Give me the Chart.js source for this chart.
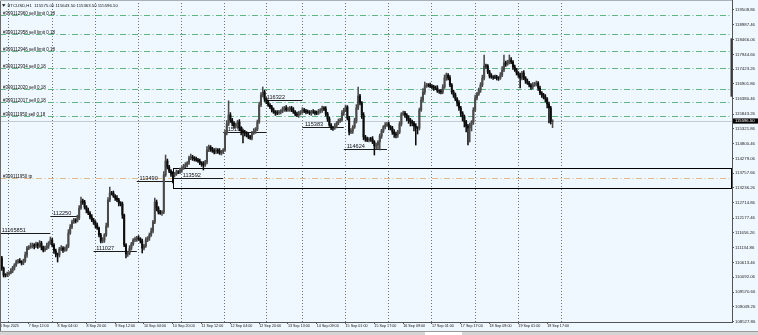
<!DOCTYPE html>
<html>
<head>
<meta charset="utf-8">
<script src="https://cdn.jsdelivr.net/npm/chart.js@4.4.1/dist/chart.umd.min.js"></script>
<style>
  html, body { margin: 0; padding: 0; background: #f0f8ff; }
  #wrap { position: relative; width: 758px; height: 335px; }
</style>
</head>
<body>
<div id="wrap"><canvas id="chart"></canvas></div>
<script>
/* BTCUSD H1 — candles, one per hour */

const symbol = 'BTCUSD,H1';

// time axis labels, one every 16 bars
const timeLabels = ['6 Sep 2025', '7 Sep 12:00', '8 Sep 04:00', '8 Sep 20:00', '9 Sep 12:00',
  '10 Sep 04:00', '10 Sep 20:00', '11 Sep 12:00', '12 Sep 04:00', '12 Sep 20:00',
  '13 Sep 13:00', '14 Sep 09:00', '15 Sep 01:00', '15 Sep 17:00', '16 Sep 09:00',
  '17 Sep 01:00', '17 Sep 17:00', '18 Sep 09:00', '19 Sep 01:00', '19 Sep 17:00'];
const labelEvery = 16;

// price axis labels
const priceTicks = [119508.86, 118987.46, 118466.06, 117944.66, 117423.26, 116901.86, 116380.46,
  115843.26, 115321.86, 114800.46, 114279.06, 113757.66, 113236.26, 112714.86, 112177.46,
  111656.26, 111134.86, 110613.46, 110092.06, 109570.66, 109049.26, 108527.86];

// first bar of every day (period separators)
const dayStarts = [4, 28, 52, 76, 100, 124, 147, 167, 191, 215, 239, 263, 287, 311];

const opens = [
  110486, 110768, 110416, 110169, 110169, 110204, 110239, 110310, 110416, 110521,
  110627, 110662, 110627, 110592, 110662, 110874, 111121, 111156, 111191, 111226,
  111191, 111262, 111191, 111297, 111156, 111050, 111121, 111191, 111297, 111403,
  111226, 111015, 110909, 110874, 111085, 111121, 111050, 111085, 111191, 111649,
  111861, 112037, 112108, 112072, 112178, 112531, 112777, 112742, 112566, 112460,
  112354, 112213, 112108, 112037, 111931, 111826, 111579, 111367, 111403, 111579,
  111896, 112813, 113059, 113059, 112954, 112883, 112813, 112707, 112672, 112284,
  111226, 110909, 110944, 111121, 111262, 111403, 111438, 111473, 111438, 111367,
  111121, 111191, 111403, 111473, 111579, 111720, 112037, 112742, 112531, 112390,
  112354, 112390, 113694, 114187, 113976, 113835, 113729, 113694, 113729, 113800,
  113800, 113870, 113941, 114011, 114046, 114117, 114293, 114328, 114293, 114258,
  114223, 114187, 114117, 114082, 114046, 114152, 114575, 114681, 114610, 114540,
  114505, 114575, 114540, 114469, 114505, 114575, 115174, 115491, 115808, 115632,
  115526, 115421, 115456, 115562, 115350, 115245, 115209, 115174, 115104, 115033,
  114998, 115174, 115245, 115315, 115562, 116161, 116513, 116619, 116372, 116267,
  116161, 116090, 115985, 115914, 115879, 115879, 115914, 115949, 116020, 116055,
  115985, 116020, 116055, 115985, 115914, 115844, 115808, 115879, 115914, 115985,
  115949, 115914, 115914, 115879, 115914, 115914, 115879, 115879, 115949, 115985,
  116055, 116020, 115844, 115667, 115456, 115350, 115350, 115421, 115526, 115597,
  115632, 115879, 115985, 116090, 115703, 115209, 115245, 115386, 115597, 116055,
  116478, 116231, 115808, 115033, 114963, 114927, 114963, 114963, 114857, 114716,
  114751, 114857, 115068, 115245, 115386, 115456, 115491, 115386, 115350, 115209,
  115139, 115104, 115209, 115491, 115844, 115879, 115808, 115703, 115632, 115562,
  115526, 115421, 115350, 115350, 115985, 116337, 116619, 116830, 116866, 116866,
  116830, 116795, 116760, 116760, 116654, 116654, 116619, 116795, 117112, 117218,
  117112, 116866, 116619, 116513, 116372, 116231, 116055, 115879, 115738, 115562,
  115421, 115350, 115456, 115562, 115985, 116407, 116548, 116689, 116866, 117112,
  117535, 117535, 117324, 117183, 117148, 117148, 117148, 117112, 117112, 117218,
  117394, 117641, 117606, 117676, 117747, 117676, 117500, 117394, 117288, 117218,
  117112, 117288, 117112, 117007, 116936, 116866, 116795, 116866, 116901, 116936,
  116760, 116584, 116513, 116443, 116372, 116196, 116055, 115575
];

const closes = [
  110768, 110416, 110169, 110169, 110204, 110239, 110310, 110416, 110521, 110627,
  110662, 110627, 110592, 110662, 110874, 111121, 111156, 111191, 111226, 111191,
  111262, 111191, 111297, 111156, 111050, 111121, 111191, 111297, 111403, 111226,
  111015, 110909, 110874, 111085, 111121, 111050, 111085, 111191, 111649, 111861,
  112037, 112108, 112072, 112178, 112531, 112777, 112742, 112566, 112460, 112354,
  112213, 112108, 112037, 111931, 111826, 111579, 111367, 111403, 111579, 111896,
  112813, 113059, 113059, 112954, 112883, 112813, 112707, 112672, 112284, 111226,
  110909, 110944, 111121, 111262, 111403, 111438, 111473, 111438, 111367, 111121,
  111191, 111403, 111473, 111579, 111720, 112037, 112742, 112531, 112390, 112354,
  112390, 113694, 114187, 113976, 113835, 113729, 113694, 113729, 113800, 113800,
  113870, 113941, 114011, 114046, 114117, 114293, 114328, 114293, 114258, 114223,
  114187, 114117, 114082, 114046, 114152, 114575, 114681, 114610, 114540, 114505,
  114575, 114540, 114469, 114505, 114575, 115174, 115491, 115808, 115632, 115526,
  115421, 115456, 115562, 115350, 115245, 115209, 115174, 115104, 115033, 114998,
  115174, 115245, 115315, 115562, 116161, 116513, 116619, 116372, 116267, 116161,
  116090, 115985, 115914, 115879, 115879, 115914, 115949, 116020, 116055, 115985,
  116020, 116055, 115985, 115914, 115844, 115808, 115879, 115914, 115985, 115949,
  115914, 115914, 115879, 115914, 115914, 115879, 115879, 115949, 115985, 116055,
  116020, 115844, 115667, 115456, 115350, 115350, 115421, 115526, 115597, 115632,
  115879, 115985, 116090, 115703, 115209, 115245, 115386, 115597, 116055, 116478,
  116231, 115808, 115033, 114963, 114927, 114963, 114963, 114857, 114716, 114751,
  114857, 115068, 115245, 115386, 115456, 115491, 115386, 115350, 115209, 115139,
  115104, 115209, 115491, 115844, 115879, 115808, 115703, 115632, 115562, 115526,
  115421, 115350, 115350, 115985, 116337, 116619, 116830, 116866, 116866, 116830,
  116795, 116760, 116760, 116654, 116654, 116619, 116795, 117112, 117218, 117112,
  116866, 116619, 116513, 116372, 116231, 116055, 115879, 115738, 115562, 115421,
  115350, 115456, 115562, 115985, 116407, 116548, 116689, 116866, 117112, 117535,
  117535, 117324, 117183, 117148, 117148, 117148, 117112, 117112, 117218, 117394,
  117641, 117606, 117676, 117747, 117676, 117500, 117394, 117288, 117218, 117112,
  117288, 117112, 117007, 116936, 116866, 116795, 116866, 116901, 116936, 116760,
  116584, 116513, 116443, 116372, 116196, 116055, 115575, 115596.5
];

// wick length above the body / below the body
const wickUp = [
  176, 60, 35, 50, 70, 50, 85, 60, 50, 70,
  60, 85, 50, 70, 100, 60, 50, 106, 70, 50,
  70, 50, 85, 60, 35, 70, 100, 50, 106, 60,
  50, 70, 35, 60, 85, 50, 70, 50, 120, 85,
  70, 60, 50, 100, 85, 141, 70, 60, 50, 70,
  50, 85, 60, 50, 70, 35, 60, 85, 50, 100,
  85, 211, 60, 70, 50, 85, 60, 50, 70, 35,
  50, 70, 85, 60, 50, 70, 60, 85, 50, 70,
  60, 85, 50, 70, 100, 60, 141, 70, 50, 60,
  50, 120, 211, 70, 60, 50, 85, 60, 70, 50,
  70, 50, 60, 85, 50, 70, 100, 60, 50, 70,
  60, 70, 50, 85, 60, 120, 70, 50, 60, 85,
  70, 50, 85, 60, 50, 100, 120, 500, 85, 60,
  50, 70, 60, 85, 50, 70, 60, 50, 85, 60,
  60, 85, 50, 70, 100, 85, 176, 60, 50, 70,
  50, 60, 70, 50, 85, 60, 50, 70, 60, 85,
  70, 50, 60, 85, 50, 70, 60, 50, 85, 60,
  60, 70, 50, 60, 85, 50, 70, 60, 50, 70,
  50, 85, 60, 70, 50, 60, 85, 50, 70, 60,
  85, 60, 70, 50, 60, 85, 50, 100, 120, 317,
  60, 50, 85, 60, 70, 50, 60, 85, 50, 70,
  50, 70, 60, 50, 85, 60, 70, 50, 60, 85,
  70, 60, 85, 50, 70, 60, 50, 85, 60, 70,
  60, 85, 50, 70, 100, 120, 141, 60, 50, 70,
  50, 60, 70, 85, 50, 60, 85, 106, 70, 50,
  85, 50, 60, 70, 50, 85, 60, 50, 70, 60,
  60, 70, 50, 85, 100, 60, 70, 85, 100, 388,
  70, 50, 60, 85, 50, 70, 60, 50, 85, 120,
  282, 70, 60, 176, 85, 50, 70, 60, 50, 70,
  60, 85, 50, 70, 60, 50, 85, 60, 70, 50,
  70, 50, 60, 85, 50, 70, 60, 47
];
const wickDn = [
  70, 85, 70, 70, 60, 50, 35, 60, 70, 50,
  50, 35, 70, 60, 50, 85, 60, 50, 70, 100,
  60, 85, 50, 100, 70, 50, 60, 85, 50, 70,
  85, 100, 247, 70, 60, 85, 50, 70, 60, 50,
  60, 50, 70, 35, 60, 50, 85, 70, 100, 60,
  70, 60, 85, 100, 50, 70, 70, 60, 85, 50,
  50, 60, 70, 50, 85, 60, 100, 70, 120, 60,
  141, 85, 60, 70, 50, 60, 85, 50, 70, 176,
  70, 50, 60, 85, 50, 70, 60, 100, 70, 50,
  85, 60, 50, 70, 60, 85, 282, 70, 50, 60,
  60, 85, 50, 60, 70, 50, 60, 85, 70, 50,
  50, 60, 85, 176, 50, 70, 60, 85, 50, 70,
  60, 85, 50, 70, 60, 50, 70, 60, 85, 100,
  85, 60, 120, 100, 141, 388, 106, 70, 60, 50,
  70, 50, 85, 60, 50, 60, 70, 85, 60, 50,
  60, 70, 50, 85, 60, 50, 70, 60, 85, 50,
  50, 85, 60, 50, 70, 60, 85, 70, 50, 60,
  70, 50, 60, 85, 50, 70, 60, 50, 70, 85,
  60, 70, 85, 50, 60, 85, 50, 70, 60, 50,
  50, 85, 60, 70, 106, 60, 85, 50, 70, 60,
  70, 120, 100, 85, 60, 70, 85, 60, 317, 100,
  141, 282, 85, 60, 70, 50, 100, 70, 85, 120,
  106, 85, 60, 70, 50, 85, 100, 120, 141, 106,
  176, 600, 211, 70, 50, 60, 85, 50, 70, 60,
  70, 85, 60, 50, 85, 70, 60, 50, 85, 70,
  60, 70, 85, 60, 100, 85, 120, 141, 176, 211,
  600, 493, 211, 85, 60, 70, 50, 85, 60, 70,
  85, 60, 70, 50, 85, 60, 70, 85, 50, 60,
  60, 85, 50, 70, 60, 85, 50, 70, 85, 352,
  70, 60, 85, 50, 70, 85, 60, 50, 70, 85,
  60, 85, 70, 100, 141, 529, 85, 211.5
];

// pending / open orders
const orderPrices = [119343, 118652, 118074, 117482, 116725, 116284, 115773];
const orderLabels = ['#399112960 sell limit 0.18', '#399112958 sell limit 0.18',
  '#399112946 sell limit 0.18', '#399112934 sell 0.18', '#399112020 sell 0.18',
  '#399112017 sell 0.18', '#399111950 sell 0.18'];
const tpPrice = 113599;
const tpLabel = '#399111950 tp';

// daily level segments (bar from / to, label anchor bar)
const levelPrices = [111650, 112250, 111027, 113490, 113592, 115192, 116322, 115383, 114624];
const levelLabels = ['11165851', '112250', '111027', '113490', '113592', '115192', '116322', '115383', '114624'];
const levelFrom = [0, 28, 52, 76, 96, 124, 148, 168, 191];
const levelTo = [28, 44, 76, 96, 124, 148, 168, 191, 215];
const levelLabelAt = [1, 29.5, 53.5, 77.5, 101.5, 125, 148.2, 169.4, 192.6];

// zone rectangle
const zoneFrom = 96;
const zoneTop = 113951;
const zoneBottom = 113246;

// visible window
const priceTop = 119861;
const priceBottom = 108514;
const visibleBars = 406.7;
const rangeMarkTop = 118511;
const rangeMarkBottom = 116453;

const FONT = "'Liberation Sans', Arial, sans-serif";
const last = closes.length - 1;

/* ─── candle datasets ─────────────────────────────── */
// bull candles are hollow in MT4, at this zoom they come out dark grey
const BULL = '#4a4a4a';
const BEAR = '#0c0c0c';
const candleColor = closes.map((c, i) => (c > opens[i] ? BULL : BEAR));

const wickData = closes.map((c, i) => ({
  x: i,
  y: [Math.min(opens[i], c) - wickDn[i], Math.max(opens[i], c) + wickUp[i]]
}));
const bodyData = closes.map((c, i) => ({ x: i, y: [opens[i], c] }));

const snap = v => Math.round(v) + 0.5;
function hline(ctx, x0, x1, py) {
  ctx.beginPath(); ctx.moveTo(x0, py); ctx.lineTo(x1, py); ctx.stroke();
}

/* ─── objects drawn behind the candles ───────────── */
const behind = {
  id: 'behind',
  beforeDatasetsDraw(chart) {
    const { ctx, chartArea: a, scales: { x, y } } = chart;
    ctx.save();
    ctx.beginPath();
    ctx.rect(a.left, a.top, a.right - a.left, a.bottom - a.top);
    ctx.clip();
    ctx.lineWidth = 1;

    // period separators
    ctx.strokeStyle = '#737373';
    ctx.setLineDash([1, 2]);
    dayStarts.forEach(b => {
      const px = snap(x.getPixelForValue(b + 0.7));
      ctx.beginPath(); ctx.moveTo(px, a.top); ctx.lineTo(px, a.bottom); ctx.stroke();
    });

    // bid line
    ctx.setLineDash([]);
    ctx.strokeStyle = '#c4cbd3';
    hline(ctx, a.left, a.right, snap(y.getPixelForValue(closes[last])));

    // order lines
    ctx.font = `4.5px ${FONT}`;
    ctx.textAlign = 'left';
    ctx.textBaseline = 'alphabetic';
    ctx.setLineDash([6, 2.5, 1, 2.5]);
    orderPrices.forEach((p, k) => {
      const py = snap(y.getPixelForValue(p));
      ctx.strokeStyle = '#62b483';
      hline(ctx, a.left, a.right, py);
      ctx.fillStyle = '#111';
      ctx.fillText(orderLabels[k], a.left + 3, py - 1);
    });

    // take profit
    const tpy = snap(y.getPixelForValue(tpPrice));
    ctx.strokeStyle = '#e2b98f';
    hline(ctx, a.left, a.right, tpy);
    ctx.fillStyle = '#111';
    ctx.fillText(tpLabel, a.left + 3, tpy - 1);

    // level segments
    ctx.setLineDash([]);
    ctx.strokeStyle = '#1c1c1c';
    ctx.fillStyle = '#111';
    ctx.font = `5.6px ${FONT}`;
    levelPrices.forEach((p, k) => {
      const py = snap(y.getPixelForValue(p));
      hline(ctx, x.getPixelForValue(levelFrom[k]), x.getPixelForValue(levelTo[k]), py);
      ctx.fillText(levelLabels[k], x.getPixelForValue(levelLabelAt[k]), py - 1.5);
    });

    // zone rectangle
    ctx.strokeStyle = '#000';
    const zx = snap(x.getPixelForValue(zoneFrom));
    const zt = snap(y.getPixelForValue(zoneTop));
    const zb = snap(y.getPixelForValue(zoneBottom));
    ctx.strokeRect(zx, zt, a.right - 0.5 - zx, zb - zt);
    ctx.restore();
  },

  afterDraw(chart) {
    const { ctx, chartArea: a, scales: { y }, width, height } = chart;
    ctx.save();

    // dark mark on the price scale
    ctx.fillStyle = '#3c3c3c';
    const mt = y.getPixelForValue(rangeMarkTop);
    const mb = y.getPixelForValue(rangeMarkBottom);
    ctx.fillRect(a.right - 1.5, mt, 2, mb - mt);

    // current price box
    const py = y.getPixelForValue(closes[last]);
    ctx.fillStyle = '#000';
    ctx.fillRect(a.right + 1, py - 2.6, width - a.right - 1, 5.2);
    ctx.fillStyle = '#fff';
    ctx.font = `4.2px ${FONT}`;
    ctx.textBaseline = 'middle';
    ctx.fillText(closes[last].toFixed(2), a.right + 3, py + 0.2);

    // header with the last bar's OHLC
    const hi = Math.max(opens[last], closes[last]) + wickUp[last];
    const lo = Math.min(opens[last], closes[last]) - wickDn[last];
    ctx.fillStyle = '#111';
    ctx.beginPath();
    ctx.moveTo(2, 4.2); ctx.lineTo(5.5, 4.2); ctx.lineTo(3.75, 6.8); ctx.closePath();
    ctx.fill();
    ctx.font = `4.3px ${FONT}`;
    ctx.textBaseline = 'middle';
    ctx.fillText(`${symbol}  ${opens[last].toFixed(2)} ${hi.toFixed(2)} ${lo.toFixed(2)} ${closes[last].toFixed(2)}`, 7.5, 5.8);

    // frame
    ctx.strokeStyle = '#6a6a6a';
    ctx.lineWidth = 1;
    ctx.beginPath(); ctx.moveTo(0.5, 0); ctx.lineTo(0.5, height - 4); ctx.stroke();
    ctx.strokeStyle = '#a9b0b8';
    hline(ctx, 0, a.right, 0.5);

    // tab strip at the bottom
    ctx.fillStyle = '#d5d5d5';
    ctx.fillRect(0, height - 4, width, 4);
    ctx.strokeStyle = '#9a9a9a';
    hline(ctx, 0, width, height - 3.5);
    ctx.fillStyle = '#ffffff';
    ctx.fillRect(425, height - 3, 37, 3);
    ctx.restore();
  }
};

/* ─── chart ──────────────────────────────────────── */
new Chart(document.getElementById('chart'), {
  type: 'bar',
  data: {
    datasets: [
      { data: bodyData, backgroundColor: candleColor, barThickness: 1.4, grouped: false, borderWidth: 0 },
      { data: wickData, backgroundColor: candleColor, barThickness: 0.9, grouped: false, borderWidth: 0 }
    ]
  },
  options: {
    responsive: true,
    maintainAspectRatio: false,
    animation: false,
    layout: { padding: 0 },
    plugins: { legend: { display: false }, tooltip: { enabled: false } },
    scales: {
      x: {
        type: 'linear',
        min: 0,
        max: visibleBars,
        offset: false,
        grid: { offset: false, drawOnChartArea: false, tickLength: 2, color: '#555' },
        border: { color: '#555' },
        ticks: {
          autoSkip: false, maxRotation: 0, minRotation: 0, align: 'start', padding: 0,
          color: '#111', font: { family: FONT, size: 3.7 },
          callback: (v, i) => timeLabels[i]
        },
        afterBuildTicks: s => { s.ticks = timeLabels.map((_, k) => ({ value: k * labelEvery })); },
        afterFit: s => { s.height = 13; s.paddingLeft = 0; s.paddingRight = 0; }
      },
      y: {
        position: 'right',
        min: priceBottom,
        max: priceTop,
        beginAtZero: false,
        grid: { drawOnChartArea: false, tickLength: 2, color: '#555' },
        border: { color: '#555' },
        ticks: {
          autoSkip: false, padding: 1,
          color: '#222', font: { family: FONT, size: 4.3 },
          callback: v => v.toFixed(2)
        },
        afterBuildTicks: s => { s.ticks = priceTicks.map(v => ({ value: v })); },
        afterFit: s => { s.width = 26; s.paddingTop = 0; s.paddingBottom = 0; }
      }
    }
  },
  plugins: [behind]
});
</script>
</body>
</html>
